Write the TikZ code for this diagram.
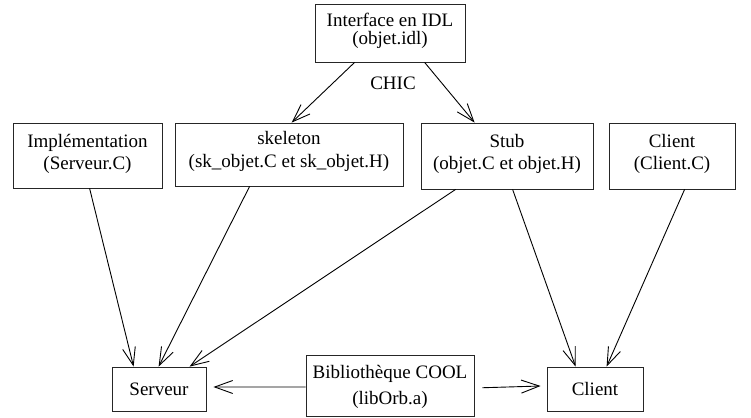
\documentclass[tikz,border=0pt]{standalone}
\usepackage{fontspec}
\setmainfont{Liberation Serif}
\usetikzlibrary{arrows.meta}
\begin{document}
\begin{tikzpicture}[x=1pt,y=-1pt,
  box/.style={draw=black!85, line width=0.8pt, inner sep=0pt},
  lbl/.style={anchor=base, inner sep=0pt, font=\fontsize{19}{22}\selectfont},
  arr/.style={line width=0.9pt,
    -{Straight Barb[length=18pt,width=13pt,line width=0.9pt]}}]
\path[use as bounding box] (0,0) rectangle (751,417);

% boxes
\node[box, minimum width=150pt, minimum height=58pt]   (idl)  at (390,33)     {};
\node[box, minimum width=149pt, minimum height=65pt]   (impl) at (87.5,155.5) {};
\node[box, minimum width=228pt, minimum height=63pt]   (skel) at (289,154.5)  {};
\node[box, minimum width=172pt, minimum height=66pt]   (stub) at (507,156)    {};
\node[box, minimum width=126pt, minimum height=66pt]   (cli)  at (672,156)    {};
\node[box, minimum width=94pt,  minimum height=44pt]   (serv) at (159,389)    {};
\node[box, minimum width=168pt, minimum height=61.5pt] (bib)  at (390,385.75) {};
\node[box, minimum width=96pt,  minimum height=44pt]   (clib) at (595,389)    {};

% labels
\node[inner sep=0pt, align=center, font=\fontsize{19}{18.5}\selectfont]
  (idlT) at (390,31) {Interface en IDL\\(objet.idl)};
\node[lbl] (chic)  at (393,90)   {CHIC};
\node[lbl] (implA) at (87.5,147) {Implémentation};
\node[lbl] (implB) at (87.5,169) {(Serveur.C)};
\node[lbl] (skelA) at (289,144)  {skeleton};
\node[lbl] (skelB) at (289,167)  {(sk\_objet.C et sk\_objet.H)};
\node[lbl] (stubA) at (507,147)  {Stub};
\node[lbl] (stubB) at (507,169)  {(objet.C et objet.H)};
\node[lbl] (cliA)  at (672,147)  {Client};
\node[lbl] (cliB)  at (672,169)  {(Client.C)};
\node[lbl] (servA) at (159,395)  {Serveur};
\node[lbl] (bibA)  at (390,378)  {Bibliothèque COOL};
\node[lbl] (bibB)  at (390,404)  {(libOrb.a)};
\node[lbl] (clibA) at (595,395.5){Client};

% connectors
\draw[arr] ([xshift=40pt]idl.south west)  -- ([xshift=117pt]skel.north west);
\draw[arr] ([xshift=110pt]idl.south west) -- ([xshift=54pt]stub.north west);
\draw[arr] ([xshift=77pt]impl.south west) -- ([xshift=22pt]serv.north west);
\draw[arr] ([xshift=75pt]skel.south west) -- ([xshift=47pt]serv.north west);
\draw[arr] ([xshift=35pt]stub.south west) -- ([xshift=78pt]serv.north west);
\draw[arr] ([xshift=92pt]stub.south west) -- ([xshift=29pt]clib.north west);
\draw[arr] ([xshift=76pt]cli.south west)  -- ([xshift=60pt]clib.north west);
\draw[arr] ([yshift=-1.2pt]bib.west) -- ([xshift=7pt,yshift=2pt]serv.east);
\draw[arr] ([xshift=8pt,yshift=-2pt]bib.east) -- ([xshift=-6pt,yshift=3pt]clib.west);
\end{tikzpicture}
\end{document}
